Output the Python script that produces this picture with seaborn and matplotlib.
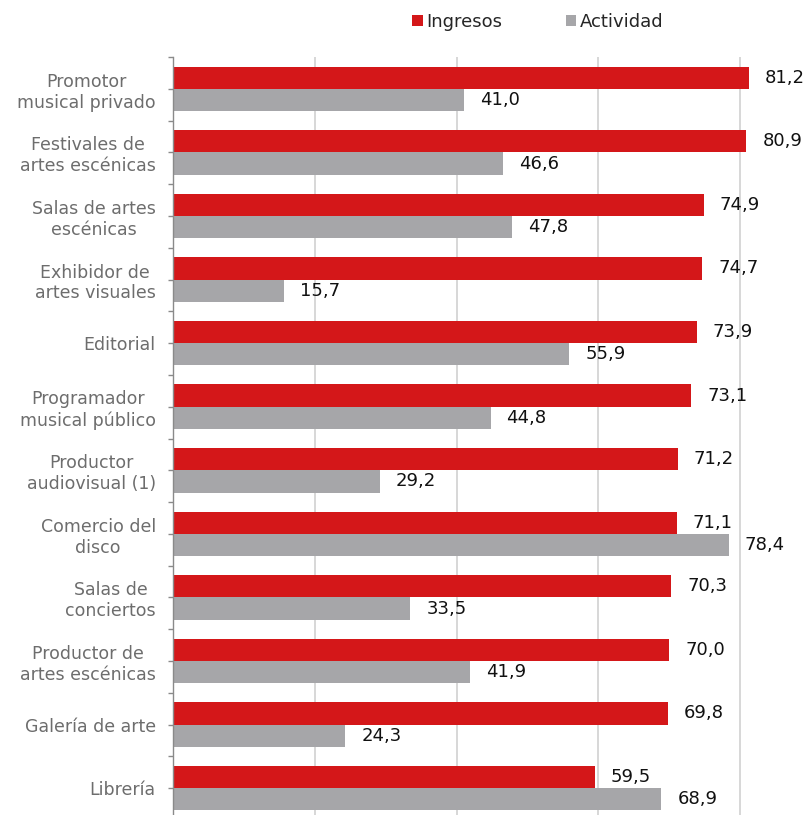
import matplotlib
matplotlib.use("Agg")
import matplotlib.pyplot as plt
import seaborn as sns
import pandas as pd
from matplotlib.patches import Patch
from matplotlib.ticker import FixedLocator

categories = [
    "Promotor\nmusical privado",
    "Festivales de\nartes escénicas",
    "Salas de artes\nescénicas",
    "Exhibidor de\nartes visuales",
    "Editorial",
    "Programador\nmusical público",
    "Productor\naudiovisual (1)",
    "Comercio del\ndisco",
    "Salas de\nconciertos",
    "Productor de\nartes escénicas",
    "Galería de arte",
    "Librería",
]
ingresos = [81.2, 80.9, 74.9, 74.7, 73.9, 73.1, 71.2, 71.1, 70.3, 70.0, 69.8, 59.5]
actividad = [41.0, 46.6, 47.8, 15.7, 55.9, 44.8, 29.2, 78.4, 33.5, 41.9, 24.3, 68.9]
series = ["Ingresos", "Actividad"]
colors = ["#d41719", "#a6a6a9"]

df = pd.DataFrame({
    "categoria": categories * 2,
    "valor": ingresos + actividad,
    "serie": [series[0]] * len(categories) + [series[1]] * len(categories),
})

sns.set_style("white")
plt.rcParams["font.family"] = ["DejaVu Sans"]

fig = plt.figure(figsize=(8.07, 8.15), dpi=100)
ax = fig.add_axes([173 / 807, -5 / 815, 1 - 173 / 807, (815 - 57 + 5) / 815])

sns.barplot(data=df, y="categoria", x="valor", hue="serie", order=categories,
            hue_order=series, palette=colors, width=0.7, orient="h",
            saturation=1, legend=False, ax=ax, zorder=2, linewidth=0)

ax.set_xlim(0, 89.45)
ax.set_ylim(len(categories) - 0.5, -0.5)
ax.set_xlabel("")
ax.set_ylabel("")

# vertical gridlines every 20 units, no x tick labels
ax.xaxis.set_major_locator(FixedLocator([20, 40, 60, 80]))
ax.set_xticklabels([])
ax.tick_params(axis="x", length=0)
ax.grid(axis="x", color="#d4d4d4", linewidth=1.3, zorder=0)
ax.set_axisbelow(True)

for s in ["top", "right", "bottom"]:
    ax.spines[s].set_visible(False)
ax.spines["left"].set_color("#8a8a8a")
ax.spines["left"].set_linewidth(1.0)

ax.yaxis.set_minor_locator(FixedLocator([i - 0.5 for i in range(len(categories) + 1)]))
ax.tick_params(axis="y", which="both", length=3.6, width=1.0, color="#8a8a8a",
               direction="out", left=True)
ax.tick_params(axis="y", which="major", pad=8.8, labelsize=12.5, labelcolor="#6d6d6d")
for lbl in ax.get_yticklabels():
    lbl.set_multialignment("center")

def fmt(v):
    return f"{v:.1f}".replace(".", ",")

for cont, vals in zip(ax.containers, [ingresos, actividad]):
    ax.bar_label(cont, labels=[fmt(v) for v in vals], padding=11.5,
                 fontsize=13, color="#111111")

handles = [Patch(facecolor=c, edgecolor="none", label=s) for c, s in zip(colors, series)]
fig.legend(handles=handles, loc="center left", bbox_to_anchor=(412 / 807, 1 - 22 / 815),
           ncol=2, frameon=False, fontsize=13, handlelength=0.6, handleheight=0.6,
           handletextpad=0.2, columnspacing=3.5, borderpad=0, borderaxespad=0)

fig.savefig("out.png", dpi=100)
